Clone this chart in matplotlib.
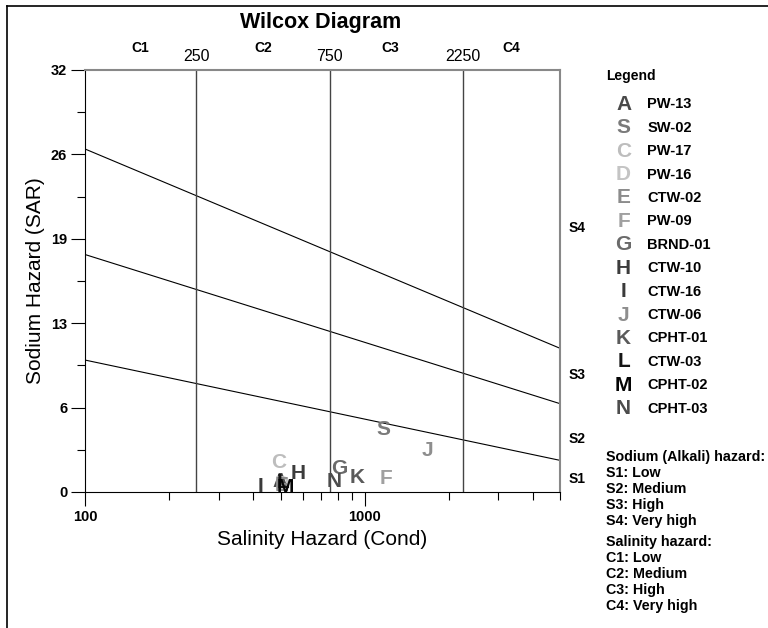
import numpy as np
import matplotlib.pyplot as plt
from matplotlib.lines import Line2D
from matplotlib.ticker import FixedLocator, FixedFormatter, NullFormatter

plt.rcParams['font.family'] = ['Liberation Sans', 'DejaVu Sans']

# samples
letters = ['A', 'S', 'C', 'D', 'E', 'F', 'G', 'H', 'I', 'J', 'K', 'L', 'M', 'N']
names = ['PW-13', 'SW-02', 'PW-17', 'PW-16', 'CTW-02', 'PW-09', 'BRND-01',
         'CTW-10', 'CTW-16', 'CTW-06', 'CPHT-01', 'CTW-03', 'CPHT-02', 'CPHT-03']
cond = [499, 1164, 494, 505, 505, 1189, 811, 577, 425, 1673, 944, 510, 520, 780]
sar = [0.78, 4.75, 2.22, 0.6, 0.5, 1.04, 1.8, 1.42, 0.45, 3.18, 1.11, 0.7, 0.36, 0.78]
colors = ['#4a4a4a', '#7a7a7a', '#bdbdbd', '#c4c4c4', '#8c8c8c', '#a0a0a0', '#6a6a6a',
          '#3c3c3c', '#3a3a3a', '#8e8e8e', '#5a5a5a', '#151515', '#050505', '#4c4c4c']

# hazard boundaries
cond_edges = [100, 5000]
sar_lines = [[26.0, 10.9], [18.0, 6.7], [10.0, 2.4]]
c_bounds = [250, 750, 2250]
c_names = ['C1', 'C2', 'C3', 'C4']
c_name_x = [157, 433, 1240, 3357]
s_names = ['S4', 'S3', 'S2', 'S1']
s_name_y = [20.0, 8.87, 4.0, 0.99]

yticks = [0, 6.4, 12.8, 19.2, 25.6, 32]
ylabels = ['0', '6', '13', '19', '26', '32']

fig = plt.figure(figsize=(7.68, 6.28), dpi=100)
ax = fig.add_axes([0.111, 0.2166, 0.618, 0.672])

for ys in sar_lines:
    ax.plot(cond_edges, ys, color='black', lw=0.8)
for c in c_bounds:
    ax.axvline(c, color='#444444', lw=1.0)

for l, x, y, col in zip(letters, cond, sar, colors):
    ax.text(x, y, l, color=col, fontsize=15, fontweight='bold', ha='center', va='center')

ax.set_xscale('log')
ax.set_xlim(100, 5000)
ax.set_ylim(0, 32)
ax.xaxis.set_major_locator(FixedLocator([100, 1000]))
ax.xaxis.set_major_formatter(FixedFormatter(['100', '1000']))
ax.xaxis.set_minor_locator(FixedLocator([200, 300, 400, 500, 600, 700, 800, 900,
                                         2000, 3000, 4000, 5000]))
ax.xaxis.set_minor_formatter(NullFormatter())
ax.yaxis.set_major_locator(FixedLocator(yticks))
ax.yaxis.set_major_formatter(FixedFormatter(ylabels))
ax.yaxis.set_minor_locator(FixedLocator([3.2, 9.6, 16, 22.4, 28.8]))
ax.tick_params(which='major', length=10, width=0.8, labelsize=10.5, pad=3)
ax.tick_params(which='minor', length=6, width=0.8)
for lab in ax.get_xticklabels() + ax.get_yticklabels():
    lab.set_fontweight('bold')

ax.spines['top'].set_color('#888888')
ax.spines['right'].set_color('#888888')
ax.spines['top'].set_linewidth(1.5)
ax.spines['right'].set_linewidth(1.5)

ax.set_xlabel('Salinity Hazard (Cond)', fontsize=15, labelpad=4)
ax.set_ylabel('Sodium Hazard (SAR)', fontsize=15, labelpad=4)
fig.text(0.417, 0.964, 'Wilcox Diagram', fontsize=15.5, fontweight='bold',
         ha='center', va='center')

trans = ax.get_xaxis_transform()
for name, x in zip(c_names, c_name_x):
    ax.text(x, 1.052, name, transform=trans, fontsize=10, fontweight='bold',
            ha='center', va='center')
for c in c_bounds:
    ax.text(c, 1.031, str(c), transform=trans, fontsize=11.5,
            ha='center', va='center')

ytrans = ax.get_yaxis_transform()
for name, y in zip(s_names, s_name_y):
    ax.text(1.018, y, name, transform=ytrans, fontsize=10, fontweight='bold',
            ha='left', va='center')

# legend
fig.text(0.789, 0.879, 'Legend', fontsize=10, fontweight='bold', ha='left', va='center')
for i, (l, n, col) in enumerate(zip(letters, names, colors)):
    yy = 0.834 - i * 0.0373
    fig.text(0.812, yy, l, color=col, fontsize=15, fontweight='bold', ha='center', va='center')
    fig.text(0.843, yy, n, fontsize=10.5, fontweight='bold', ha='left', va='center')

notes = ['Sodium (Alkali) hazard:', 'S1: Low', 'S2: Medium', 'S3: High', 'S4: Very high']
for i, t in enumerate(notes):
    fig.text(0.789, 0.272 - i * 0.0255, t, fontsize=10.3, fontweight='bold', ha='left', va='center')
notes2 = ['Salinity hazard:', 'C1: Low', 'C2: Medium', 'C3: High', 'C4: Very high']
for i, t in enumerate(notes2):
    fig.text(0.789, 0.137 - i * 0.0255, t, fontsize=10.3, fontweight='bold', ha='left', va='center')

# outer frame (left and top)
fig.add_artist(Line2D([0.009, 0.009], [0, 0.990], color='black', lw=1.2))
fig.add_artist(Line2D([0.009, 1.0], [0.990, 0.990], color='black', lw=1.2))

fig.savefig('out.png', dpi=100)
